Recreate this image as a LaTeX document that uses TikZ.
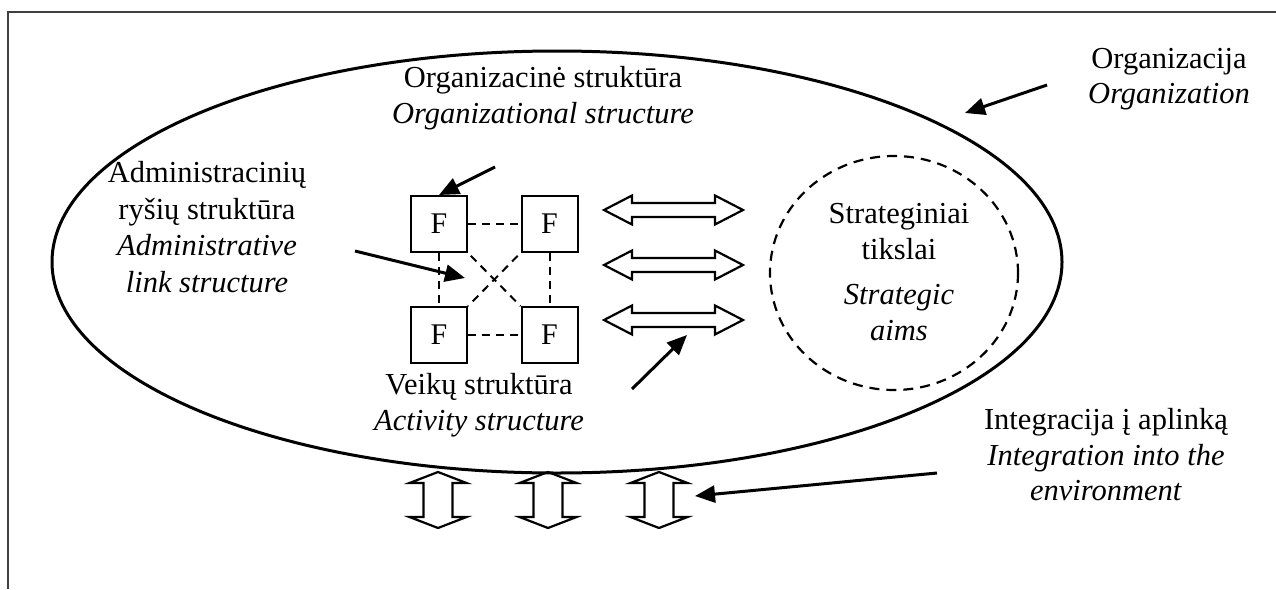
\documentclass[tikz,border=0pt]{standalone}
\usepackage{fontspec}
\setmainfont{Liberation Serif}
\usetikzlibrary{arrows.meta}
\begin{document}
\begin{tikzpicture}[x=1pt,y=-1pt,
  txt/.style={align=center,font=\fontsize{30.5}{35.5}\selectfont,inner sep=0pt},
  fbox/.style={draw,line width=2pt,minimum size=56pt,inner sep=0pt,font=\fontsize{30}{35}\selectfont},
  dline/.style={line width=2pt,dash pattern=on 8pt off 6pt},
  ptr/.style={line width=3pt,-{Triangle[length=20pt,width=17pt]}},
  outline/.style={line width=2.2pt,line join=miter},
  hdbl/.pic={\draw[outline] (-69.5,0) -- (-41.5,-14.5) -- (-41.5,-7) -- (41.5,-7) -- (41.5,-14.5) -- (69.5,0) -- (41.5,14.5) -- (41.5,7) -- (-41.5,7) -- (-41.5,14.5) -- cycle;},
  vdbl/.pic={\draw[outline] (0,-28) -- (28.5,-17) -- (14.5,-17) -- (14.5,17) -- (28.5,17) -- (0,28) -- (-28.5,17) -- (-14.5,17) -- (-14.5,-17) -- (-28.5,-17) -- cycle;}
]
\useasboundingbox (0,0) rectangle (1276,589);
% frame
\draw[line width=2pt,black!75] (8,589) -- (8,12) -- (1276,12);
% organization ellipse
\draw[line width=3pt] (557,262) ellipse [x radius=505, y radius=211];
% strategic aims circle
\draw[line width=2.2pt,dash pattern=on 10pt off 7pt] (894,273) ellipse [x radius=124, y radius=117];
\node[txt] (strat) at (899,272) {Strateginiai\\tikslai\\[10pt]\textit{Strategic}\\\textit{aims}};
% F boxes
\node[fbox] (tl) at (439,224) {F};
\node[fbox] (tr) at (549.5,224) {F};
\node[fbox] (bl) at (439,335) {F};
\node[fbox] (br) at (549.5,335) {F};
\draw[dline] (tl) -- (tr);
\draw[dline] (bl) -- (br);
\draw[dline] (tl) -- (bl);
\draw[dline] (tr) -- (br);
\draw[dline,shorten <=4pt] (tl.south east) -- (br.north west);
\draw[dline,shorten <=4pt] (tr.south west) -- (bl.north east);
% double arrows
\pic at (673.5,210) {hdbl};
\pic at (673.5,265) {hdbl};
\pic at (673.5,320) {hdbl};
\pic at (438,500) {vdbl};
\pic at (548,500) {vdbl};
\pic at (659,500) {vdbl};
% labels
\node[txt] (orgstr) at (543,98) {Organizacinė struktūra\\\textit{Organizational structure}};
\node[txt,font=\fontsize{30.5}{36.7}\selectfont] (admin) at (207,227) {Administracinių\\ryšių struktūra\\\textit{Administrative}\\\textit{link structure}};
\node[txt] (veik) at (479,405) {Veikų struktūra\\\textit{Activity structure}};
\node[txt] (org) at (1169,79) {Organizacija\\\textit{Organization}};
\node[txt] (integ) at (1106,455) {Integracija į aplinką\\\textit{Integration into the}\\\textit{environment}};
% pointer arrows
\coordinate (a1) at (495,167);
\coordinate (a2) at (355,251);
\coordinate (xtip) at (465,278);
\coordinate (a3) at (632,389);
\coordinate (dtip) at (687,335);
\coordinate (a4) at (1047,85);
\coordinate (etip) at (965,113);
\coordinate (a5) at (937,473);
\coordinate (vtip) at (695,496);
\draw[ptr] (a1) -- (tl.north);
\draw[ptr] (a2) -- (xtip);
\draw[ptr] (a3) -- (dtip);
\draw[ptr] (a4) -- (etip);
\draw[ptr] (a5) -- (vtip);
\end{tikzpicture}
\end{document}
